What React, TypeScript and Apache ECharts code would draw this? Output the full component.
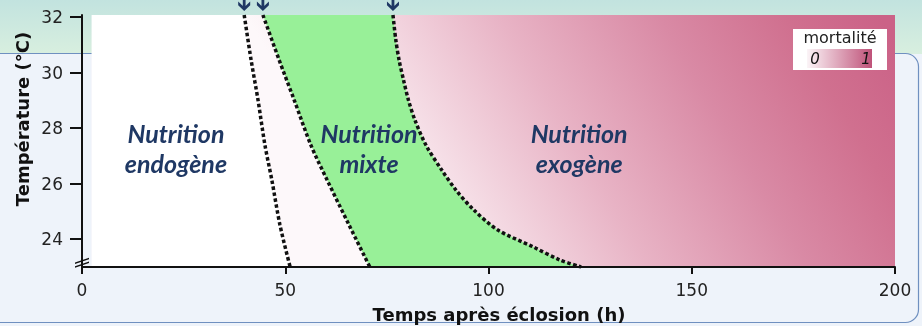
import React, { useEffect, useRef } from "react";
import * as echarts from "echarts";

// ---- data ----
const xTicks = [0, 50, 100, 150, 200];
const yTicks = [24, 26, 28, 30, 32];
const T_MIN = 23;
const T_MAX = 32.07;
const X_MIN = 0;
const X_MAX = 200;
const heatStartX = 2.4;

// temperatures at which boundary curves 1 and 2 were read
const boundaryT = [32.07, 30.45, 29.01, 27.39, 26.13, 24.51, 23.0];
// end of endogenous nutrition (h)
const endoEndX = [39.9, 41.6, 43.3, 45.0, 46.7, 48.7, 51.2];
// start of exogenous feeding (h)
const mixedStartX = [44.5, 48.5, 52.2, 56.3, 60.3, 65.7, 70.8];
// end of mixed nutrition
const exoT = [32.07, 31.17, 30.45, 29.73, 29.01, 28.29, 27.39, 26.49, 25.77, 25.05, 24.33, 23.73, 23.25, 23.0];
const exoStartX = [76.5, 77.2, 78.0, 79.1, 80.3, 81.9, 84.6, 88.5, 92.0, 96.4, 102.3, 110.9, 117.6, 122.8];

const zoneLabels = ["Nutrition\nendogène", "Nutrition\nmixte", "Nutrition\nexogène"];
const zoneLabelX = [23.1, 70.6, 122.3];
const zoneLabelT = [27.28, 27.28, 27.28];

const line1 = boundaryT.map((t, i) => [endoEndX[i], t]);
const line2 = boundaryT.map((t, i) => [mixedStartX[i], t]);
const line3 = exoT.map((t, i) => [exoStartX[i], t]);

const NAVY = "#1f3864";
const ARROW =
  "path://M0,2.5L6,8.5L12,2.5L12,6.5L6,12.5L0,6.5Z M4.6,0L7.4,0L7.4,10L4.6,10Z";
const BREAK =
  "path://M0,5L14,0L14,1.6L0,6.6Z M0,9L14,4L14,5.6L0,10.6Z";

export default function App() {
  const ref = useRef<HTMLDivElement>(null);
  useEffect(() => {
    if (!ref.current) return;
    const chart = echarts.init(ref.current, undefined, { renderer: "svg" });
    const dashed = (data: number[][]) => ({
      type: "line",
      data,
      symbol: "none",
      smooth: 0.3,
      z: 5,
      silent: true,
      lineStyle: { color: "#111", width: 3.5, type: [3.5, 2.5] },
    });
    const option: any = {
      animation: false,
      grid: { left: 82, right: 27, top: 15, bottom: 59 },
      xAxis: {
        type: "value",
        min: X_MIN,
        max: X_MAX,
        interval: 50,
        z: 10,
        splitLine: { show: false },
        axisLine: { lineStyle: { color: "#111", width: 2 } },
        axisTick: { length: 7, lineStyle: { color: "#111", width: 2 } },
        axisLabel: {
          margin: 14,
          fontSize: 17,
          color: "#222",
          fontFamily: "DejaVu Sans",
          formatter: (v: number) => (xTicks.includes(v) ? String(v) : ""),
        },
      },
      yAxis: {
        type: "value",
        min: T_MIN,
        max: T_MAX,
        z: 10,
        splitLine: { show: false },
        axisLine: { show: true, lineStyle: { color: "#111", width: 2 } },
        axisTick: { show: true, length: 12, customValues: yTicks, lineStyle: { color: "#111", width: 2 } },
        axisLabel: {
          customValues: yTicks,
          margin: 19,
          fontSize: 17,
          color: "#222",
          fontFamily: "DejaVu Sans",
        },
      },
      graphic: [
        { type: "rect", z: -20, silent: true, shape: { x: 0, y: 0, width: 922, height: 326 }, style: { fill: "#eef3fa" } },
        {
          type: "rect", z: -19, silent: true,
          shape: { x: 0, y: 0, width: 922, height: 54 },
          style: {
            fill: new echarts.graphic.LinearGradient(0, 0, 0, 1, [
              { offset: 0, color: "#c2e3df" },
              { offset: 1, color: "#d8efdf" },
            ]),
          },
        },
        {
          type: "rect", z: -18, silent: true,
          shape: { x: -20, y: 53.5, width: 938.5, height: 269, r: 13 },
          style: { fill: "#eef3fa", stroke: "#6f90c0", lineWidth: 1.2 },
        },
        {
          type: "text", z: 20, x: 22, y: 119, rotation: Math.PI / 2,
          style: {
            text: "Température (°C)", fontSize: 18, fontWeight: "bold", fontFamily: "DejaVu Sans",
            fill: "#111", align: "center", verticalAlign: "middle",
          },
        },
        {
          type: "text", z: 20, x: 499, y: 314,
          style: {
            text: "Temps après éclosion (h)", fontSize: 18, fontWeight: "bold", fontFamily: "DejaVu Sans",
            fill: "#111", align: "center", verticalAlign: "middle",
          },
        },
        { type: "rect", z: 30, silent: true, shape: { x: 793, y: 29, width: 94, height: 41 }, style: { fill: "#ffffff" } },
        {
          type: "text", z: 31, x: 840, y: 37,
          style: { text: "mortalité", fontSize: 16, fontFamily: "DejaVu Sans", fill: "#222", align: "center", verticalAlign: "middle" },
        },
        {
          type: "rect", z: 31, silent: true, shape: { x: 807, y: 49, width: 65, height: 19 },
          style: {
            fill: new echarts.graphic.LinearGradient(0, 0, 1, 0, [
              { offset: 0, color: "#fbf4f7" },
              { offset: 1, color: "#bf5279" },
            ]),
          },
        },
        {
          type: "text", z: 32, x: 815, y: 59,
          style: { text: "0", fontSize: 15, fontStyle: "italic", fontFamily: "DejaVu Sans", fill: "#111", align: "center", verticalAlign: "middle" },
        },
        {
          type: "text", z: 32, x: 866, y: 59,
          style: { text: "1", fontSize: 15, fontStyle: "italic", fontFamily: "DejaVu Sans", fill: "#111", align: "center", verticalAlign: "middle" },
        },
      ],
      series: [
        {
          type: "line",
          data: [],
          z: 1,
          silent: true,
          markArea: {
            silent: true,
            itemStyle: {
              color: new echarts.graphic.LinearGradient(245, 15, 712, -265, [
                { offset: 0, color: "#fdf8fa" },
                { offset: 0.15, color: "#f7e3ea" },
                { offset: 0.4, color: "#e8b3c5" },
                { offset: 0.65, color: "#d98aa5" },
                { offset: 0.85, color: "#d0708f" },
                { offset: 1, color: "#cb6287" },
              ], true),
            },
            data: [[{ coord: [heatStartX, T_MIN] }, { coord: [X_MAX, T_MAX] }]],
          },
        },
        {
          type: "custom",
          coordinateSystem: "cartesian2d",
          z: 2,
          silent: true,
          data: [[0, T_MIN]],
          renderItem: (_p: any, api: any) => {
            const white = [[heatStartX, T_MAX], ...line1, [heatStartX, T_MIN]].map((p) => api.coord(p));
            const green = [...line2, ...line3.slice().reverse()].map((p) => api.coord(p));
            return {
              type: "group",
              children: [
                { type: "polygon", shape: { points: white }, style: { fill: "#ffffff" } },
                { type: "polygon", shape: { points: green }, style: { fill: "#98f098" } },
              ],
            };
          },
        },
        dashed(line1),
        dashed(line2),
        dashed(line3),
        {
          type: "scatter",
          z: 6,
          clip: false,
          silent: true,
          symbol: ARROW,
          symbolSize: [12, 12],
          symbolOffset: [0, -10],
          itemStyle: { color: NAVY, opacity: 1 },
          data: [line1[0], line2[0], line3[0]],
        },
        {
          type: "scatter",
          z: 11,
          clip: false,
          silent: true,
          symbol: BREAK,
          symbolSize: [14, 10],
          itemStyle: { color: "#111", opacity: 1 },
          data: [[X_MIN, 23.15]],
        },
        {
          type: "scatter",
          z: 7,
          silent: true,
          symbolSize: 1,
          itemStyle: { color: "rgba(0,0,0,0)", opacity: 1 },
          data: zoneLabelX.map((x, i) => [x, zoneLabelT[i], zoneLabels[i]]),
          label: {
            show: true,
            position: "inside",
            formatter: (p: any) => p.data[2],
            fontFamily: "Lato",
            fontStyle: "italic",
            fontWeight: "bold",
            fontSize: 25,
            lineHeight: 30,
            color: NAVY,
            opacity: 1,
            align: "center",
          },
        },
      ],
    };
    chart.setOption(option);
    return () => chart.dispose();
  }, []);
  return (
    <div
      ref={ref}
      style={{ position: "fixed", left: 0, top: 0, width: 922, height: 326 }}
    />
  );
}
